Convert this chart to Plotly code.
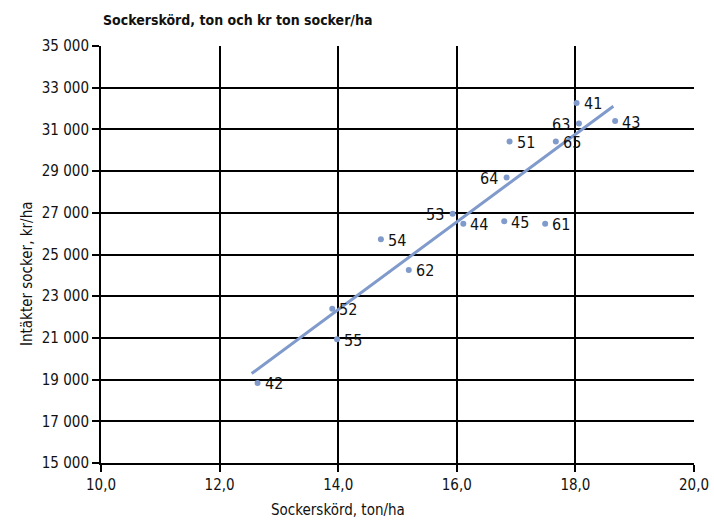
import plotly.graph_objects as go

labels = ["41", "63", "43", "51", "65", "64", "53", "44", "45", "61", "54", "62", "52", "55", "42"]
harvest = [18.02, 18.06, 18.67, 16.89, 17.67, 16.84, 15.93, 16.11, 16.80, 17.49, 14.72, 15.19, 13.90, 13.98, 12.64]
income = [32270, 31280, 31400, 30420, 30420, 28690, 26960, 26480, 26590, 26480, 25730, 24260, 22400, 20930, 18840]
label_side = ["right", "left", "right", "right", "right", "left", "left", "right", "right", "right", "right", "right", "right", "right", "right"]

trend_x = [12.54, 18.64]
trend_y = [19290, 32110]

x_ticks = [10, 12, 14, 16, 18, 20]
y_ticks = [15000, 17000, 19000, 21000, 23000, 25000, 27000, 29000, 31000, 33000, 35000]

FONT = "DejaVu Sans Condensed, Roboto, sans-serif"
DOT = "#7f9acb"

fig = go.Figure()
fig.add_trace(go.Scatter(x=trend_x, y=trend_y, mode="lines",
                         line=dict(color=DOT, width=3), hoverinfo="skip"))
fig.add_trace(go.Scatter(x=harvest, y=income, mode="markers",
                         marker=dict(color=DOT, size=6), hoverinfo="skip"))

for lab, xv, yv, side in zip(labels, harvest, income, label_side):
    fig.add_annotation(x=xv, y=yv, text=lab, showarrow=False,
                       xanchor="left" if side == "right" else "right",
                       xshift=5 if side == "right" else -7, yshift=-1,
                       font=dict(family=FONT, size=16, color="#111111"))

fig.add_annotation(xref="paper", yref="paper", x=0, y=1, xanchor="left", yanchor="bottom",
                   yshift=16, text="<b>Sockerskörd, ton och kr ton socker/ha</b>", showarrow=False,
                   font=dict(family=FONT, size=14, color="#111111"))
fig.add_annotation(xref="paper", yref="paper", x=0.4, y=0, yanchor="top",
                   yshift=-36, text="Sockerskörd, ton/ha", showarrow=False,
                   font=dict(family=FONT, size=15, color="#111111"))
fig.add_annotation(xref="paper", yref="paper", x=0, xshift=-85, y=(463 - 274) / 417,
                   text="Intäkter socker, kr/ha", textangle=-90, showarrow=False,
                   font=dict(family=FONT, size=15, color="#111111"))

fig.update_layout(
    width=714, height=522,
    margin=dict(l=101, r=20, t=46, b=59, autoexpand=False),
    paper_bgcolor="white", plot_bgcolor="white",
    showlegend=False,
    separators=", ",
    font=dict(family=FONT, size=15, color="#111111"),
    xaxis=dict(range=[10, 20], tickvals=x_ticks, tickformat=".1f",
               showgrid=True, gridcolor="black", gridwidth=2, automargin=False,
               zeroline=False, showline=True, linecolor="black", linewidth=2,
               ticks="outside", ticklen=7, tickwidth=2, tickcolor="black"),
    yaxis=dict(range=[15000, 35000], tickvals=y_ticks, tickformat=",d",
               showgrid=True, gridcolor="black", gridwidth=2, automargin=False,
               zeroline=False, showline=True, linecolor="black", linewidth=2,
               ticks="outside", ticklen=7, tickwidth=2, tickcolor="black"),
)

fig.write_html("out.html", config={"displayModeBar": False},
               post_script="document.body.style.margin='0';document.body.style.overflow='hidden';")
